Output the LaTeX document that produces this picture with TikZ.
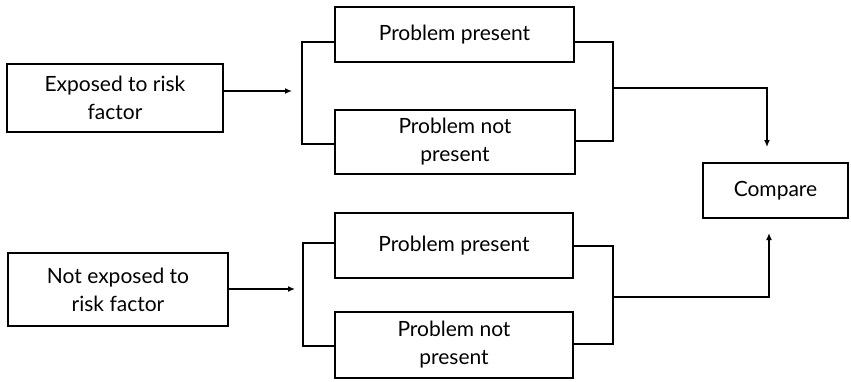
\documentclass[tikz,border=0pt]{standalone}
\usepackage{fontspec}
\setmainfont{Lato}
\usetikzlibrary{arrows.meta}

\begin{document}
\begin{tikzpicture}
		[
			x=1pt, y=-1pt,
			box/.style = {rectangle, align=center, draw=black, line width=2pt, inner sep=0pt,
				font=\fontsize{21}{28}\selectfont},
			link/.style = {draw=black, line width=1.7pt},
			arr/.style = {link, -{Latex[length=7pt,width=6pt]}},
		]
		\useasboundingbox (0,0) rectangle (851,381);

		% exposure groups
		\node[box, minimum width=216pt, minimum height=68pt] (expo) 	at ( 115.0,  98.0 ) {Exposed to risk\\factor};
		\node[box, minimum width=220pt, minimum height=73pt] (noexpo) 	at ( 118.0, 289.5 ) {Not exposed to\\risk factor};

		% outcomes
		\node[box, minimum width=239pt, minimum height=55pt] (p1) 	at ( 454.5,  34.5 ) {Problem present};
		\node[box, minimum width=240pt, minimum height=64pt] (p2) 	at ( 455.0, 142.0 ) {Problem not\\present};
		\node[box, minimum width=238pt, minimum height=65pt] (p3) 	at ( 454.0, 245.5 ) {Problem present};
		\node[box, minimum width=238pt, minimum height=66pt] (p4) 	at ( 454.0, 345.0 ) {Problem not\\present};

		\node[box, minimum width=145pt, minimum height=55pt] (cmp) 	at ( 775.5, 190.5 ) {Compare};

		% bracket corners and arrow ends
		\coordinate (a1) at ( 292,  91 );
		\coordinate (a2) at ( 295, 289 );
		\coordinate (l1t) at ( 302,  42 );
		\coordinate (l1b) at ( 302, 144 );
		\coordinate (l2t) at ( 303, 243 );
		\coordinate (l2b) at ( 303, 346 );
		\coordinate (r1t) at ( 613,  42 );
		\coordinate (r1b) at ( 613, 141 );
		\coordinate (r2t) at ( 613, 246 );
		\coordinate (r2b) at ( 613, 344 );
		\coordinate (m1) at ( 613,  88 );
		\coordinate (m2) at ( 613, 297 );
		\coordinate (c1) at ( 767, 147 );
		\coordinate (c2) at ( 769, 233 );

		\draw[arr] (expo.east |- a1) -- (a1);
		\draw[arr] (noexpo.east |- a2) -- (a2);

		\foreach \up/\dn/\top/\bot in {p1/p2/l1t/l1b,p3/p4/l2t/l2b}
		\draw[link] (\up.west |- \top) -- (\top) -- (\bot) -- (\dn.west |- \bot);

		\foreach \up/\dn/\top/\bot in {p1/p2/r1t/r1b,p3/p4/r2t/r2b}
		\draw[link] (\up.east |- \top) -- (\top) -- (\bot) -- (\dn.east |- \bot);

		\draw[arr] (m1) -| (c1);
		\draw[arr] (m2) -| (c2);

		\end{tikzpicture}
\end{document}
